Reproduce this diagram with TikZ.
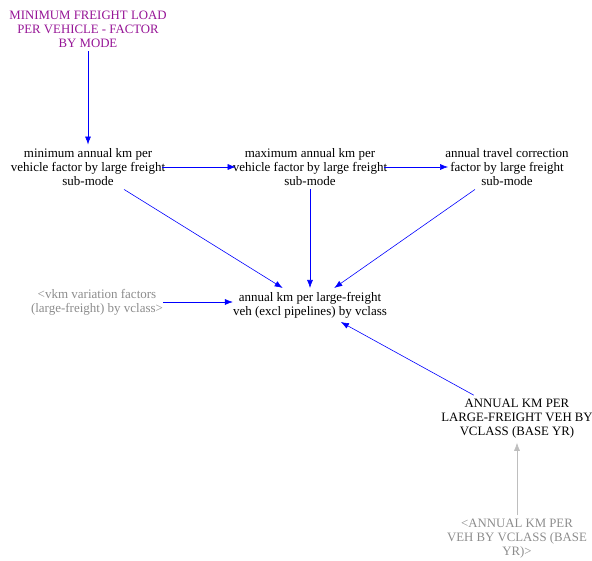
\documentclass[tikz,border=0pt]{standalone}
\usepackage{fontspec}
\setmainfont{Liberation Serif}
\usetikzlibrary{arrows,arrows.meta,positioning}
\definecolor{plumtxt}{RGB}{150,20,150}
\definecolor{shadowtxt}{RGB}{140,140,140}
\definecolor{shadowarr}{RGB}{190,190,190}
\tikzset{
    varsty/.style={align=center,inner xsep=0pt,inner ysep=4pt,font=\fontsize{13}{13.7}\selectfont},
    capsty/.style={align=center,inner xsep=0pt,inner ysep=4pt,font=\fontsize{12.8}{14}\selectfont},
    conststy/.style={capsty,text=plumtxt},
    shadowsty/.style={varsty,text=shadowtxt},
    shadowcapsty/.style={capsty,text=shadowtxt},
    arrsty/.style={->,draw=blue,line width=0.6pt},
    grayarrsty/.style={->,draw=shadowarr,line width=0.6pt},
}

\begin{document}
\begin{tikzpicture}[>={Latex[length=8pt,width=6pt]},x=1pt,y=-1pt]
\useasboundingbox (0,0) rectangle (592,561);
\node[conststy] (minload) at (88,29) {MINIMUM FREIGHT LOAD\\PER VEHICLE - FACTOR\\BY MODE};
\node[varsty] (minkm) at (88,167) {minimum annual km per\\vehicle factor by large freight\\sub-mode};
\node[varsty] (maxkm) at (310,167) {maximum annual km per\\vehicle factor by large freight\\sub-mode};
\node[varsty] (travcorr) at (507,167) {annual travel correction\\factor by large freight\\sub-mode};
\node[varsty] (annkm) at (310,305) {annual km per large-freight\\veh (excl pipelines) by vclass};
\node[shadowsty] (vkmvar) at (97,302) {<vkm variation factors\\(large-freight) by vclass>};
\node[capsty] (baseyr) at (517,419) {ANNUAL KM PER\\LARGE-FREIGHT VEH BY\\VCLASS (BASE YR)};
\node[shadowcapsty] (vehbase) at (517,539) {<ANNUAL KM PER\\VEH BY VCLASS (BASE\\YR)>};

% links
\draw[arrsty] (minload) -- (minkm);
\draw[arrsty,shorten <=-3pt,shorten >=-3pt] (minkm.east) -- (maxkm.west);
\draw[arrsty,shorten <=-3pt,shorten >=-3pt] (maxkm.east) -- (travcorr.west);
\draw[arrsty] (minkm) -- (annkm);
\draw[arrsty] (maxkm) -- (annkm);
\draw[arrsty] (travcorr) -- (annkm);
\draw[arrsty] (vkmvar.east) -- (annkm.west |- vkmvar.east);
\draw[arrsty] (baseyr) -- (annkm);
\draw[grayarrsty] (vehbase) -- (baseyr);
\end{tikzpicture}
\end{document}
